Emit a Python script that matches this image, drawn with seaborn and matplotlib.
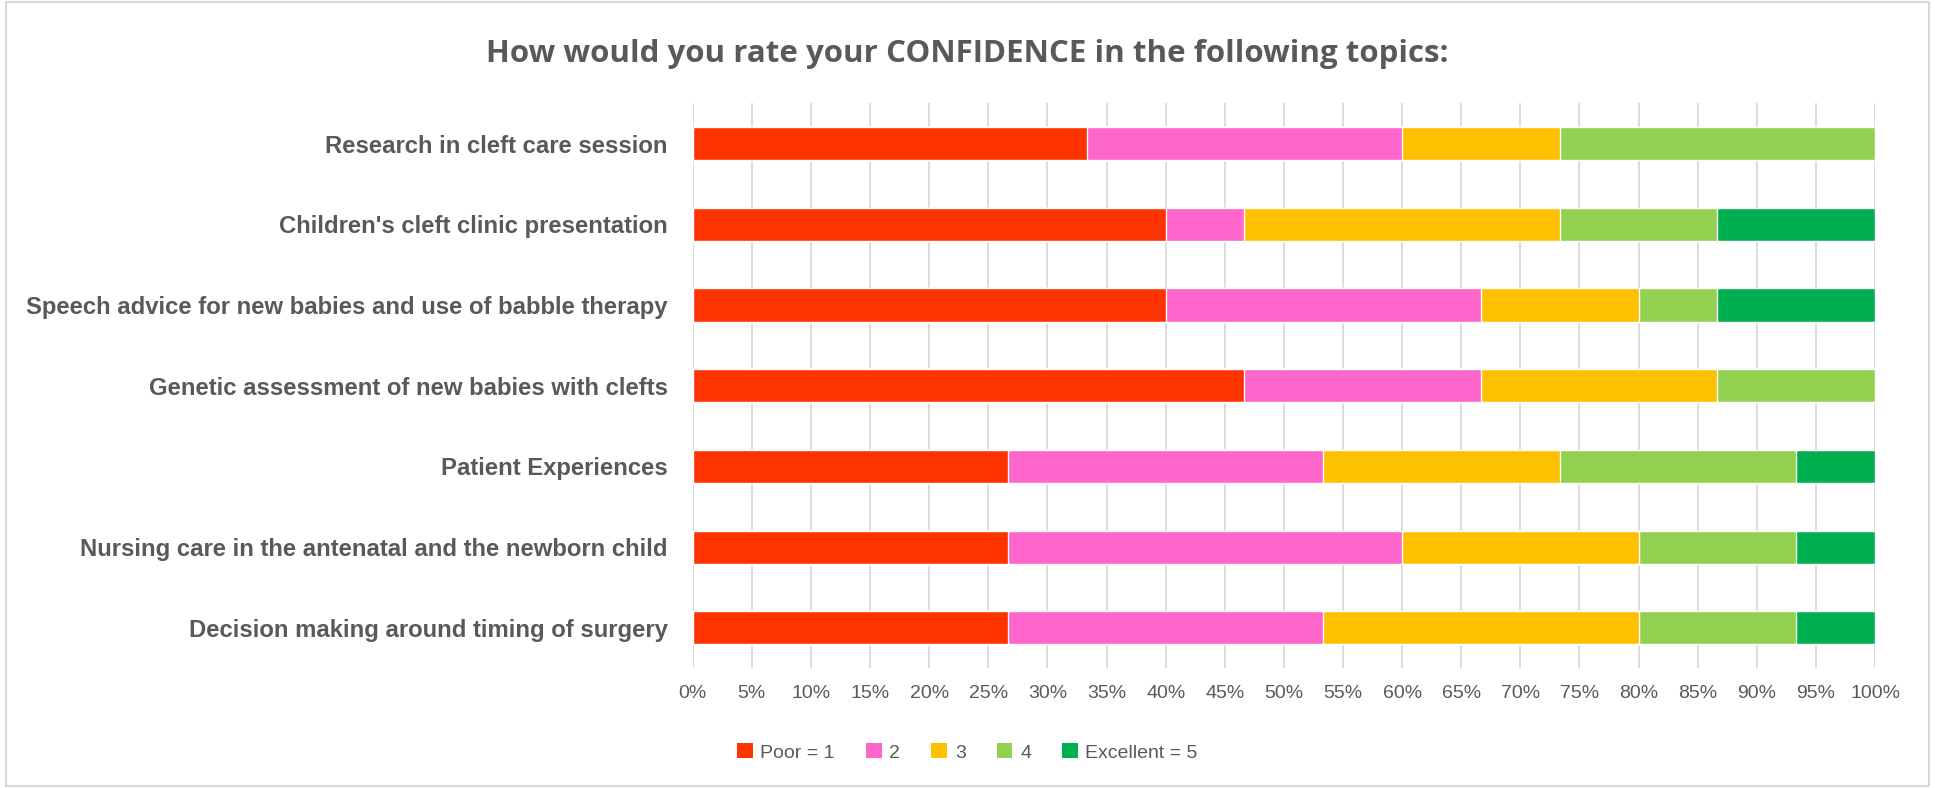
import pandas as pd
import numpy as np
import matplotlib.pyplot as plt
import seaborn as sns
from matplotlib.patches import Patch
from matplotlib.ticker import FuncFormatter, MultipleLocator

# topics, top to bottom
topics = [
    "Research in cleft care session",
    "Children's cleft clinic presentation",
    "Speech advice for new babies and use of babble therapy",
    "Genetic assessment of new babies with clefts",
    "Patient Experiences",
    "Nursing care in the antenatal and the newborn child",
    "Decision making around timing of surgery",
]
levels = ["Poor = 1", "2", "3", "4", "Excellent = 5"]

# number of respondents per rating (15 respondents)
poor = [5, 6, 6, 7, 4, 4, 4]
two = [4, 1, 4, 3, 4, 5, 4]
three = [2, 4, 2, 3, 3, 3, 4]
four = [4, 2, 1, 2, 3, 2, 2]
excellent = [0, 2, 2, 0, 1, 1, 1]

colors = ["#FF3300", "#FF66CC", "#FFC000", "#92D050", "#00B050"]

counts = pd.DataFrame({"Poor = 1": poor, "2": two, "3": three, "4": four,
                       "Excellent = 5": excellent}, index=topics)
pct = counts.div(counts.sum(axis=1), axis=0) * 100
cum = pct.cumsum(axis=1)

sns.set_style("white")
plt.rcParams["font.family"] = ["Liberation Sans", "DejaVu Sans"]

fig = plt.figure(figsize=(19.35, 7.88), dpi=100)
ax = fig.add_axes([0.358, 0.152, 0.611, 0.717])

# stacked bars: draw the cumulative totals from the top level down
for lvl, col in reversed(list(zip(levels, colors))):
    df = pd.DataFrame({"topic": topics, "value": cum[lvl].values})
    sns.barplot(data=df, x="value", y="topic", orient="h", color=col,
                width=0.41, saturation=1, ax=ax, zorder=3)

ax.set_xlim(0, 100)
ax.xaxis.set_major_locator(MultipleLocator(5))
ax.xaxis.set_major_formatter(FuncFormatter(lambda v, p: f"{v:.0f}%"))
ax.grid(axis="x", color="#D9D9D9", linewidth=1.3, zorder=0)
ax.grid(axis="y", visible=False)
for s in ax.spines.values():
    s.set_visible(False)
ax.set_xlabel("")
ax.set_ylabel("")
ax.tick_params(axis="x", labelsize=14, colors="#595959", length=0, pad=12)
ax.tick_params(axis="y", length=0, pad=18)
for lab in ax.get_yticklabels():
    lab.set_fontsize(17.2)
    lab.set_fontweight("bold")
    lab.set_color("#595959")

fig.suptitle("How would you rate your CONFIDENCE in the following topics:",
             x=0.5, y=0.95, fontsize=22.5, fontweight="bold", color="#595959",
             family=["Open Sans", "DejaVu Sans"])

handles = [Patch(facecolor=c, edgecolor="none") for c in colors]
fig.legend(handles, levels, loc="center", bbox_to_anchor=(0.5, 0.045), ncol=5,
           frameon=False, fontsize=14, handlelength=0.8, handleheight=0.8,
           handletextpad=0.4, columnspacing=1.6, labelcolor="#595959")

# outer chart border
fig.patches.append(plt.Rectangle((0.003, 0.003), 0.994, 0.994, transform=fig.transFigure,
                                 fill=False, edgecolor="#D9D9D9", linewidth=1.5))

fig.savefig("out.png", dpi=100)
